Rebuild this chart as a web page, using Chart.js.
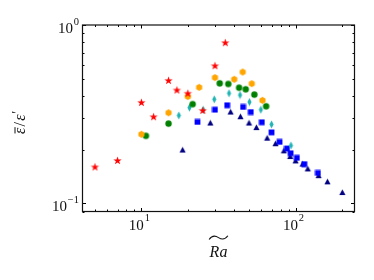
<!DOCTYPE html>
<html><head><meta charset="utf-8">
<script src="https://cdn.jsdelivr.net/npm/chart.js@4/dist/chart.umd.min.js"></script>
<style>html,body{margin:0;padding:0;background:#fff;}</style>
</head><body>
<canvas id="c" width="374" height="280"></canvas>
<script>
// ---- data ----
const starX = [5, 7, 10, 12, 15, 17, 20, 25, 30, 35];
const starY = [0.160, 0.174, 0.368, 0.306, 0.489, 0.432, 0.414, 0.332, 0.591, 0.796];
const hexX = [10, 15, 20, 23.7, 30, 40, 45.4, 52, 61];
const hexY = [0.244, 0.322, 0.397, 0.447, 0.507, 0.496, 0.545, 0.469, 0.378];
const circX = [10.7, 15, 21.5, 32.2, 36.6, 43, 47.5, 54, 64.4];
const circY = [0.239, 0.280, 0.360, 0.471, 0.467, 0.445, 0.436, 0.407, 0.350];
const diaX = [17.5, 20.5, 25.2, 29.7, 37, 43.6, 50.2, 59.5, 69.8, 93.3];
const diaY = [0.311, 0.344, 0.334, 0.383, 0.414, 0.405, 0.370, 0.335, 0.277, 0.211];
const sqX = [23.1, 30, 36, 45.6, 51.2, 60.4, 69.8, 78.7, 87.9, 92.8, 102, 113.8, 139.6];
const sqY = [0.286, 0.335, 0.355, 0.347, 0.325, 0.285, 0.250, 0.221, 0.203, 0.191, 0.180, 0.166, 0.148];
const triX = [18.5, 28, 37.9, 43.9, 49.9, 55.7, 65.4, 74.1, 84, 92.3, 100, 111, 120, 141, 161, 201];
const triY = [0.199, 0.282, 0.325, 0.306, 0.282, 0.266, 0.232, 0.216, 0.197, 0.183, 0.173, 0.166, 0.156, 0.143, 0.132, 0.115];

const xTickValues = [10, 100];
const xTickExps = ['1', '2'];
const yTickValues = [1, 0.1];
const yTickExps = ['0', '\u22121'];
const xTitle = 'Ra';
const yTitleParts = ['\u03b5', '/', '\u03b5', '\u2032'];

// ---- marker images ----
function marker(w, h, draw, color) {
  const c = document.createElement('canvas');
  c.width = w; c.height = h;
  const g = c.getContext('2d');
  g.fillStyle = color;
  g.beginPath();
  draw(g, w / 2, h / 2);
  g.closePath();
  g.fill();
  return c;
}
function poly(g, pts) { pts.forEach((p, i) => i ? g.lineTo(p[0], p[1]) : g.moveTo(p[0], p[1])); }
const starImg = marker(11, 11, (g, cx, cy) => {
  const pts = [];
  for (let i = 0; i < 10; i++) {
    const r = i % 2 ? 1.75 : 4.4;
    const a = -Math.PI / 2 + i * Math.PI / 5;
    pts.push([cx + r * Math.cos(a), cy + 0.3 + r * Math.sin(a)]);
  }
  poly(g, pts);
}, '#ff0000');
const hexImg = marker(9, 9, (g, cx, cy) => {
  const pts = [];
  for (let i = 0; i < 6; i++) {
    const a = -Math.PI / 2 + i * Math.PI / 3;
    pts.push([cx + 3.5 * Math.cos(a), cy + 3.5 * Math.sin(a)]);
  }
  poly(g, pts);
}, '#ffa500');
const circImg = marker(9, 9, (g, cx, cy) => { g.arc(cx, cy, 3.2, 0, Math.PI * 2); }, '#008000');
const diaImg = marker(7, 9, (g, cx, cy) => {
  poly(g, [[cx, cy - 3.9], [cx + 2.1, cy], [cx, cy + 3.9], [cx - 2.1, cy]]);
}, '#22b4b4');
const sqImg = marker(7, 7, (g, cx, cy) => { g.rect(cx - 2.9, cy - 2.9, 5.8, 5.8); }, '#0000ff');
const triImg = marker(9, 9, (g, cx, cy) => {
  poly(g, [[cx, cy - 3.2], [cx + 3.1, cy + 2.6], [cx - 3.1, cy + 2.6]]);
}, '#000080');

function pts(xs, ys) { return xs.map((x, i) => ({ x: x, y: ys[i] })); }
function ds(xs, ys, img) {
  return { data: pts(xs, ys), pointStyle: img, pointRadius: 4, showLine: false };
}

const SERIF = '"Liberation Serif", "DejaVu Serif", serif';

const axesPlugin = {
  id: 'mplAxes',
  afterDraw(chart) {
    const ctx = chart.ctx, ca = chart.chartArea;
    const xs = chart.scales.x, ys = chart.scales.y;
    ctx.save();
    // ticks (inward on all sides)
    ctx.strokeStyle = '#000';
    ctx.lineWidth = 1;
    ctx.beginPath();
    for (let d = -2; d <= 3; d++) {
      for (let m = 1; m <= 9; m++) {
        const v = m * Math.pow(10, d);
        const len = m === 1 ? 3.5 : 2;
        if (v >= xs.min && v <= xs.max) {
          const px = Math.round(xs.getPixelForValue(v)) + 0.5;
          ctx.moveTo(px, ca.bottom); ctx.lineTo(px, ca.bottom - len);
          ctx.moveTo(px, ca.top); ctx.lineTo(px, ca.top + len);
        }
        if (v >= ys.min && v <= ys.max) {
          const py = Math.round(ys.getPixelForValue(v)) + 0.5;
          ctx.moveTo(ca.left, py); ctx.lineTo(ca.left + len, py);
          ctx.moveTo(ca.right, py); ctx.lineTo(ca.right - len, py);
        }
      }
    }
    ctx.stroke();
    // frame
    ctx.strokeStyle = '#111';
    ctx.lineWidth = 1.2;
    ctx.strokeRect(ca.left, ca.top, ca.right - ca.left, ca.bottom - ca.top);

    // tick labels
    ctx.fillStyle = '#111';
    ctx.textBaseline = 'alphabetic';
    const baseFont = '15px ' + SERIF, supFont = '10.5px ' + SERIF;
    function labelWidth(exp) {
      ctx.font = baseFont; const a = ctx.measureText('10').width;
      ctx.font = supFont; const b = ctx.measureText(exp).width;
      return [a, b];
    }
    function drawLabel(left, base, exp) {
      const [a] = labelWidth(exp);
      ctx.textAlign = 'left';
      ctx.font = baseFont; ctx.fillText('10', left, base);
      ctx.font = supFont; ctx.fillText(exp, left + a + 0.8, base - 8.5);
    }
    xTickValues.forEach((v, i) => {
      const px = xs.getPixelForValue(v);
      const [a, b] = labelWidth(xTickExps[i]);
      const w = a + 0.8 + b;
      drawLabel(px - w / 2 - 2, 229.5, xTickExps[i]);
    });
    yTickValues.forEach((v, i) => {
      const py = ys.getPixelForValue(v);
      const [a, b] = labelWidth(yTickExps[i]);
      const w = a + 0.8 + b;
      drawLabel(79 - w, py + 8, yTickExps[i]);
    });

    // x title: italic Ra with wide tilde
    const cx = (ca.left + ca.right) / 2;
    ctx.font = 'italic 16px ' + SERIF;
    ctx.textAlign = 'center';
    ctx.fillText(xTitle, cx, 256.5);
    const tw = ctx.measureText(xTitle).width;
    ctx.beginPath();
    ctx.lineWidth = 1.1;
    ctx.strokeStyle = '#111';
    const x0 = cx - tw / 2 - 0.5, x1 = cx + tw / 2 + 0.5;
    const q = (x1 - x0) / 4;
    ctx.moveTo(x0, 239.5);
    ctx.bezierCurveTo(x0 + q * 0.6, 235.5, x0 + q * 1.4, 235.8, x0 + 2 * q, 237.6);
    ctx.bezierCurveTo(x0 + q * 2.6, 239.4, x0 + q * 3.4, 239.7, x1, 235.8);
    ctx.stroke();

    // y title: overline(eps) / eps'
    ctx.save();
    ctx.translate(24.5, 122.3);
    ctx.rotate(-Math.PI / 2);
    ctx.textAlign = 'left';
    const fonts = ['italic 16px ' + SERIF, '16px ' + SERIF, 'italic 16px ' + SERIF, '14px ' + SERIF];
    const gaps = [1.2, 1.2, 0.8, 0];
    const widths = yTitleParts.map((t, i) => { ctx.font = fonts[i]; return ctx.measureText(t).width; });
    const total = widths.reduce((s, w, i) => s + w + gaps[i], 0);
    let x = -total / 2;
    yTitleParts.forEach((t, i) => {
      ctx.font = fonts[i];
      const dy = i === 3 ? -3 : 0;
      ctx.fillText(t, x, dy);
      if (i === 0) {
        ctx.beginPath(); ctx.lineWidth = 1; ctx.moveTo(x + 0.5, -9.5); ctx.lineTo(x + widths[0] + 0.5, -9.5); ctx.stroke();
      }
      x += widths[i] + gaps[i];
    });
    ctx.restore();
    ctx.restore();
  }
};

new Chart(document.getElementById('c'), {
  type: 'scatter',
  data: {
    datasets: [
      ds(starX, starY, starImg),
      ds(hexX, hexY, hexImg),
      ds(circX, circY, circImg),
      ds(diaX, diaY, diaImg),
      ds(sqX, sqY, sqImg),
      ds(triX, triY, triImg)
    ]
  },
  options: {
    responsive: false,
    animation: false,
    devicePixelRatio: 1,
    layout: { padding: { left: 82.5, right: 19.5, top: 25, bottom: 68.5 } },
    plugins: { legend: { display: false }, tooltip: { enabled: false } },
    scales: {
      x: { type: 'logarithmic', min: 4.15, max: 241, display: false },
      y: { type: 'logarithmic', min: 0.09, max: 1, display: false }
    }
  },
  plugins: [axesPlugin]
});
</script>
</body></html>
